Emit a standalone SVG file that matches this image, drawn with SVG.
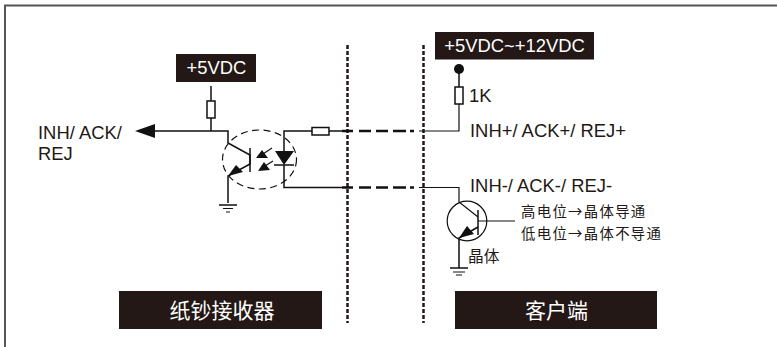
<svg xmlns="http://www.w3.org/2000/svg" width="777" height="347" viewBox="0 0 777 347">
<style>
.w{fill:none;stroke:#111;stroke-width:1.500}
.t{stroke-width:1.200}
.r{fill:#fff;stroke:#111;stroke-width:1.500}
.f{fill:#111;stroke:none}
.box{fill:#231815}
.lbl{font-family:"Liberation Sans","Noto Sans CJK SC",sans-serif;font-size:18.4px;fill:#231815}
.inv{font-family:"Liberation Sans","Noto Sans CJK SC",sans-serif;font-size:18.4px;fill:#fff;text-anchor:middle}
.cn{font-family:"Noto Sans CJK SC",sans-serif;font-size:21px;fill:#fff;text-anchor:middle}
.sm{font-family:"Noto Sans CJK SC",sans-serif;font-size:14.400px;letter-spacing:1.300px;fill:#231815}
.sm2{font-family:"Noto Sans CJK SC",sans-serif;font-size:15.700px;fill:#231815}
.div{fill:none;stroke:#231815;stroke-width:2.500;stroke-dasharray:4 2}
.dash{fill:none;stroke:#111;stroke-width:2.500}
</style>
<path d="M5 347V5.500H777" fill="none" stroke="#555" stroke-width="2"/>
<g id="dividers">
<path class="div" d="M347.500 45V323"/>
<path class="div" d="M423.500 45V323"/>
</g>
<g id="connectors">
<path class="w" d="M154 131H228V143L250 155V164L228 176V203"/>
<path class="w" d="M211 118V131"/>
<path class="w" d="M284 165V187.500H342"/>
<path class="w" d="M284 151V131H312"/>
<path class="w" d="M329 131H342"/>
<path class="dash" d="M342 131H353M359 131H371M376 131H388M393 131H406M410 131H414"/>
<path class="dash" d="M342 187.500H353M359 187.500H371M376 187.500H388M393 187.500H406M410 187.500H414"/>
<path class="w t" d="M419 131H459V104"/>
<path class="w t" d="M419 187.500H459V202L478 217"/>
<path class="w" d="M459 87V71"/>
<path class="w" d="M478 227L459 238V268"/>
<path class="w t" d="M478 221H515"/>
</g>
<g id="supply-5v">
<rect class="box" x="176" y="54" width="80" height="28"/>
<text class="inv" x="216.500" y="74">+5VDC</text>
<path class="w" d="M211 86V101"/>
<rect class="r" x="207" y="101" width="8" height="17"/>
</g>
<g id="output-label">
<path class="f" d="M135 131L155 124V138Z"/>
<text class="lbl" x="38" y="139">INH/ ACK/</text>
<text class="lbl" x="38" y="160">REJ</text>
</g>
<g id="optocoupler">
<ellipse cx="259.500" cy="159.500" rx="37" ry="29.500" fill="none" stroke="#111" stroke-width="1.200" stroke-dasharray="7 4.500"/>
<path class="w" d="M250 148V172"/>
<path class="f" d="M228 176L236 165L243 172Z"/>
<path class="f" d="M275 151H294L284 165Z"/>
<path class="w" d="M274 165H294"/>
<path class="f" d="M256 158L262 150L268 158Z"/>
<path class="w t" d="M263 154L272 148"/>
<path class="f" d="M258 171L264 162L270 170Z"/>
<path class="w t" d="M265 166L273 161"/>
</g>
<g id="ground-left">
<path class="w" d="M219 205H237"/>
<path class="w t" d="M223 208.500H233M226 212H230"/>
</g>
<g id="input-resistor"><rect class="r" x="312" y="127.500" width="17" height="7.500"/></g>
<g id="supply-12v">
<rect class="box" x="435" y="32" width="159" height="27.500"/>
<text class="inv" x="514.500" y="52">+5VDC~+12VDC</text>
<circle class="f" cx="459" cy="69" r="5"/>
<rect class="r" x="455" y="87" width="8" height="17"/>
<text class="lbl" x="469" y="102">1K</text>
<text class="lbl" x="470" y="137">INH+/ ACK+/ REJ+</text>
</g>
<g id="client-transistor">
<text class="lbl" x="470" y="192">INH-/ ACK-/ REJ-</text>
<circle cx="467" cy="221" r="19.800" fill="none" stroke="#111" stroke-width="1.200"/>
<path class="w" d="M478 210V235"/>
<path class="f" d="M459 238L467 226L474 234Z"/>
<text class="sm" x="521" y="217">高电位→晶体导通</text>
<text class="sm" x="521" y="238.500">低电位→晶体不导通</text>
<text class="sm2" x="468" y="262">晶体</text>
<path class="w" d="M450 268H468"/>
<path class="w t" d="M453 272H465M456 275H462"/>
</g>
<g id="receiver-label">
<rect class="box" x="119" y="291" width="203" height="38"/>
<text class="cn" x="222" y="317.500">纸钞接收器</text>
</g>
<g id="client-label">
<rect class="box" x="455" y="291" width="202" height="38"/>
<text class="cn" x="556.500" y="317.500">客户端</text>
</g>
</svg>
